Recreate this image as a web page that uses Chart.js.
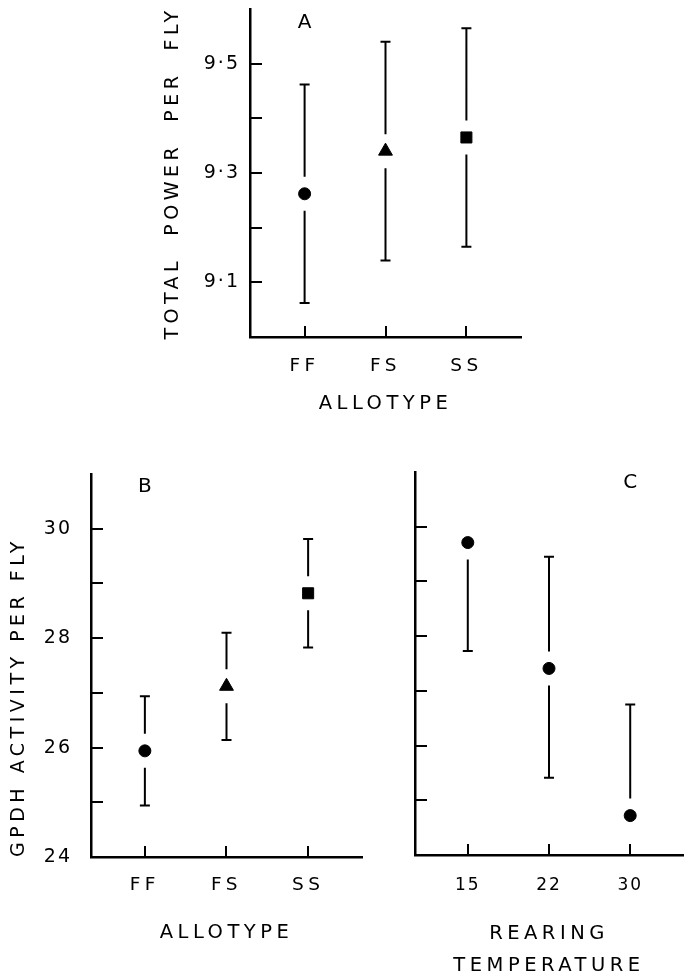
<!DOCTYPE html>
<html>
<head>
<meta charset="utf-8">
<script src="https://cdn.jsdelivr.net/npm/chart.js@4.4.1/dist/chart.umd.min.js"></script>
<style>
  html, body { margin: 0; padding: 0; background: #fff; overflow: hidden; }
  #wrap { position: relative; width: 685px; height: 977px; }
  canvas { position: absolute; }
</style>
</head>
<body>
<div id="wrap">
  <canvas id="chartA" width="380" height="430" style="left:150px;top:0px"></canvas>
  <canvas id="chartB" width="375" height="517" style="left:0px;top:460px"></canvas>
  <canvas id="chartC" width="360" height="525" style="left:330px;top:460px"></canvas>
</div>
<script>
// panel A: total power per fly by allotype
const allotypes = ['FF', 'FS', 'SS'];
const powerMeans = [9.262, 9.340, 9.365];
const powerErr = [0.20, 0.20, 0.20];
const powerTicks = [9.1, 9.2, 9.3, 9.4, 9.5];
const powerLabelled = [9.1, 9.3, 9.5];

// panel B: GPDH activity by allotype
const gpdhMeans = [25.94, 27.12, 28.82];
const gpdhErr = [1.00, 0.98, 0.99];
const gpdhTicks = [24, 25, 26, 27, 28, 29, 30];
const gpdhLabelled = [24, 26, 28, 30];

// panel C: GPDH activity by rearing temperature (one-sided bars)
const temps = ['15', '22', '30'];
const tempMeans = [29.71, 27.41, 24.72];
const tempErrLow = [1.98, 2.00, null];
const tempErrHigh = [null, 2.04, 2.03];
const tempTicks = [25, 26, 27, 28, 29, 30];

const FONT = "'DejaVu Sans', sans-serif";
Chart.defaults.font.family = FONT;
Chart.defaults.color = '#000';

// letter spacing: wide for titles / letter labels (layers z<=0), tight for numbers (z=1)
const spacing = {
  id: 'spacing',
  beforeUpdate(chart) { chart.ctx.letterSpacing = '2px'; },
  beforeDraw(chart) { chart.ctx.letterSpacing = '4.5px'; },
  beforeDatasetsDraw(chart) { chart.ctx.letterSpacing = '2px'; }
};

// ticks pointing into the plot, as in the original figure
const inwardTicks = {
  id: 'inwardTicks',
  afterDraw(chart) {
    const {ctx, chartArea: a, scales: {x, y}} = chart;
    ctx.save();
    ctx.strokeStyle = '#000';
    ctx.lineWidth = 2;
    ctx.beginPath();
    y.ticks.forEach(t => {
      const py = Math.round(y.getPixelForValue(t.value));
      ctx.moveTo(a.left, py); ctx.lineTo(a.left + 12, py);
    });
    x.ticks.forEach(t => {
      const px = Math.round(x.getPixelForValue(t.value));
      ctx.moveTo(px, a.bottom); ctx.lineTo(px, a.bottom - 11);
    });
    ctx.stroke();
    ctx.restore();
  }
};

// error bars with a gap around the marker
const whiskers = {
  id: 'whiskers',
  afterDatasetsDraw(chart) {
    const {ctx, scales: {x, y}} = chart;
    const ds = chart.data.datasets[0];
    const gap = 17, cap = 5;
    ctx.save();
    ctx.strokeStyle = '#000';
    ctx.lineWidth = 2;
    ctx.beginPath();
    ds.data.forEach((p, i) => {
      const px = x.getPixelForValue(p.x);
      const py = y.getPixelForValue(p.y);
      const hi = ds.errHigh[i], lo = ds.errLow[i];
      if (hi != null) {
        const top = y.getPixelForValue(p.y + hi);
        ctx.moveTo(px, py - gap); ctx.lineTo(px, top);
        ctx.moveTo(px - cap, top); ctx.lineTo(px + cap, top);
      }
      if (lo != null) {
        const bot = y.getPixelForValue(p.y - lo);
        ctx.moveTo(px, py + gap); ctx.lineTo(px, bot);
        ctx.moveTo(px - cap, bot); ctx.lineTo(px + cap, bot);
      }
    });
    ctx.stroke();
    ctx.restore();
  }
};

// panel letter (A, B, C)
const panelMark = {
  id: 'panelMark',
  afterDraw(chart, args, opts) {
    const {ctx, scales: {x, y}} = chart;
    ctx.save();
    ctx.letterSpacing = '0px';
    ctx.font = '20px ' + FONT;
    ctx.fillStyle = '#000';
    ctx.textAlign = 'center';
    ctx.textBaseline = 'middle';
    ctx.fillText(opts.text, x.getPixelForValue(opts.at[0]), y.getPixelForValue(opts.at[1]));
    ctx.restore();
  }
};

const styles = ['circle', 'triangle', 'rect'];
const radii = { circle: 6, triangle: 8, rect: 7.8 };

// keep the plot area exactly where the layout padding puts it
const noEdgePad = s => { s.paddingTop = 0; s.paddingBottom = 0; s.paddingLeft = 0; s.paddingRight = 0; };

function makeChart(id, c) {
  const pts = c.means.map((m, i) => ({x: i + 1, y: m}));
  const ps = c.styles;
  return new Chart(document.getElementById(id), {
    type: 'scatter',
    data: {
      datasets: [{
        data: pts,
        pointStyle: ps,
        pointRadius: ps.map(s => radii[s]),
        backgroundColor: '#000',
        borderColor: '#000',
        borderWidth: 1,
        errLow: c.errLow,
        errHigh: c.errHigh
      }]
    },
    options: {
      responsive: false,
      animation: false,
      events: [],
      layout: { padding: c.pad },
      plugins: {
        legend: { display: false },
        tooltip: { enabled: false },
        panelMark: { text: c.mark, at: c.markAt }
      },
      scales: {
        x: {
          type: 'linear',
          min: c.xMin, max: c.xMax,
          afterBuildTicks: s => { s.ticks = c.cats.map((_, i) => ({value: i + 1})); },
          afterFit: s => { s.height = c.xH; noEdgePad(s); },
          grid: { display: false, drawTicks: false },
          border: { display: true, color: '#000', width: 2.5 },
          ticks: {
            z: c.xZ, font: { size: c.xFont }, padding: c.xPad,
            autoSkip: false, maxRotation: 0,
            callback: v => c.cats[Math.round(v) - 1]
          },
          title: {
            display: true, text: c.xTitle,
            font: { size: 19.5, lineHeight: c.xTitleLH || 1.2 },
            padding: { top: 0, bottom: c.xTitlePad }
          }
        },
        y: {
          min: c.yMin, max: c.yMax,
          afterBuildTicks: s => { s.ticks = c.yTicks.map(v => ({value: v})); },
          afterFit: s => { s.width = c.yW; noEdgePad(s); },
          grid: { display: false, drawTicks: false },
          border: { display: true, color: '#000', width: 2.5 },
          ticks: { z: 1, font: { size: c.yFont }, padding: c.yPad, callback: c.yLabel },
          title: {
            display: !!c.yTitle, text: c.yTitle || '',
            align: c.yTitleAlign || 'center',
            font: { size: 19 },
            padding: { top: c.yTitlePad, bottom: 0 }
          }
        }
      }
    },
    plugins: [spacing, inwardTicks, whiskers, panelMark]
  });
}

const near = (list, v) => list.some(t => Math.abs(t - v) < 1e-6);

makeChart('chartA', {
  means: powerMeans, errLow: powerErr, errHigh: powerErr,
  styles: styles, cats: allotypes,
  mark: 'A', markAt: [1, 9.575],
  pad: { left: 0, top: 7, right: 7, bottom: 0 },
  xMin: 0.325, xMax: 3.675, xH: 93, xPad: 18, xZ: 0, xFont: 18.5,
  xTitle: 'ALLOTYPE', xTitlePad: 14,
  yMin: 9.0, yMax: 9.6, yTicks: powerTicks, yW: 100, yPad: 10, yFont: 19,
  yLabel: v => near(powerLabelled, v) ? v.toFixed(1).replace('.', '·') : '',
  yTitle: 'TOTAL  POWER  PER  FLY', yTitlePad: 11.6
});

makeChart('chartB', {
  means: gpdhMeans, errLow: gpdhErr, errHigh: gpdhErr,
  styles: styles, cats: allotypes,
  mark: 'B', markAt: [1, 30.76],
  pad: { left: 0, top: 14, right: 13, bottom: 0 },
  xMin: 0.34, xMax: 3.66, xH: 120, xPad: 17, xZ: 0, xFont: 18.5,
  xTitle: 'ALLOTYPE', xTitlePad: 32,
  yMin: 24, yMax: 31, yTicks: gpdhTicks, yW: 91, yPad: 19, yFont: 19,
  yLabel: v => near(gpdhLabelled, v) ? String(v) : '',
  yTitle: 'GPDH ACTIVITY PER FLY', yTitlePad: 7.6, yTitleAlign: 'start'
});

makeChart('chartC', {
  means: tempMeans, errLow: tempErrLow, errHigh: tempErrHigh,
  styles: ['circle', 'circle', 'circle'], cats: temps,
  mark: 'C', markAt: [3, 30.8],
  pad: { left: 0, top: 12, right: 0, bottom: 0 },
  xMin: 0.35, xMax: 3.65, xH: 130, xPad: 20, xZ: 1, xFont: 17,
  xTitle: ['REARING', 'TEMPERATURE'], xTitlePad: 3, xTitleLH: 32 / 19.5,
  yMin: 24, yMax: 31, yTicks: tempTicks, yW: 85, yPad: 10, yFont: 19,
  yLabel: () => '',
  yTitle: null, yTitlePad: 0
});
</script>
</body>
</html>
